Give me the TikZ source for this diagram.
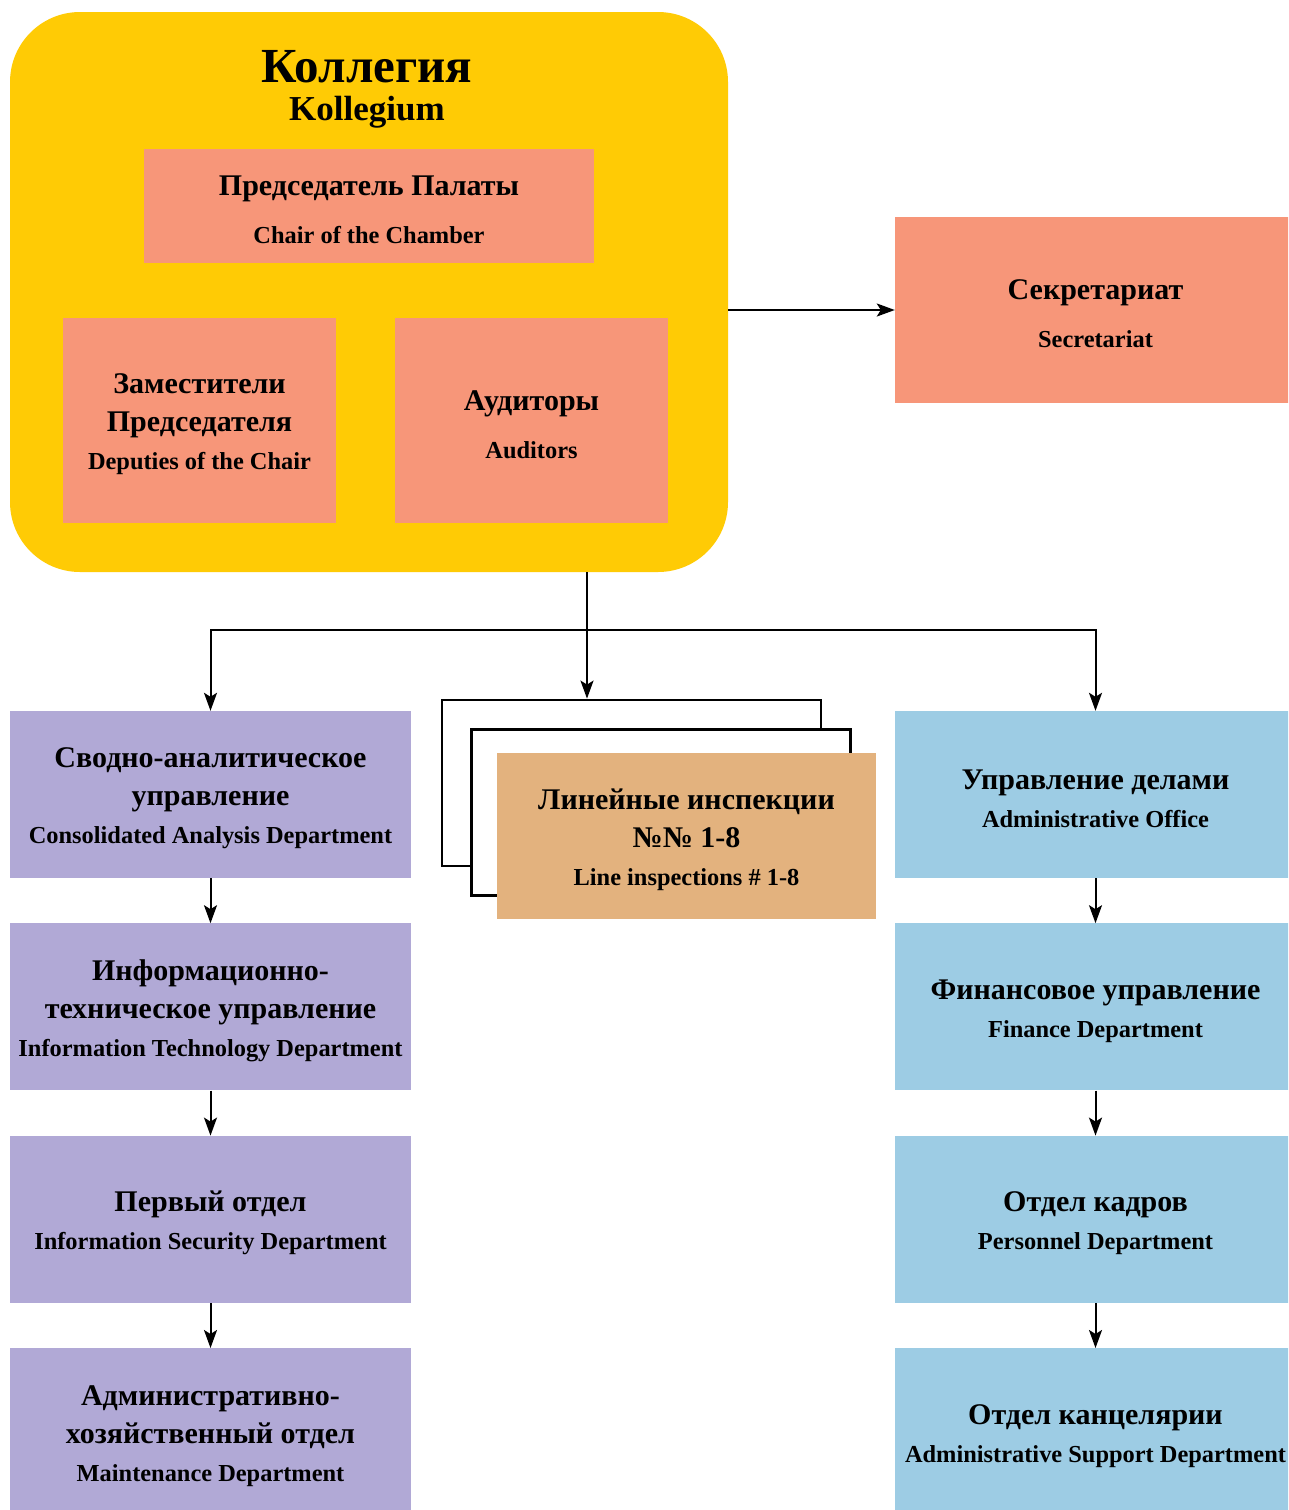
\documentclass[tikz,border=0pt]{standalone}
\usepackage{fontspec}
\setmainfont{Liberation Serif}
\usetikzlibrary{arrows.meta, positioning}
\definecolor{kollyellow}{RGB}{255,203,5}
\definecolor{salmon}{RGB}{247,150,121}
\definecolor{lilac}{RGB}{177,169,214}
\definecolor{skyblue}{RGB}{157,204,228}
\definecolor{tan}{RGB}{227,178,126}
\newcommand{\rusize}{\fontsize{30}{38}\selectfont}
\newcommand{\ensize}{\fontsize{24.4}{38}\selectfont}
\newcommand{\boxstrut}{\rule{0pt}{28pt}}

\begin{document}
\begin{tikzpicture}[x=1pt, y=-1pt,
  unit/.style={rectangle, inner sep=0pt, align=center, font=\bfseries\rusize},
  salmonbox/.style={unit, fill=salmon},
  deptbox/.style={unit, minimum width=401pt, minimum height=167pt},
  inspbox/.style={unit, minimum width=379pt, minimum height=166pt},
  shadowbox/.style={inspbox, draw, line width=2.8pt, fill=white},
  link/.style={line width=2pt, arrows={-Stealth[length=18pt, width=13pt, inset=4pt]}}]
  \useasboundingbox (0,0) rectangle (1288,1510);
  \clip (0,0) rectangle (1288,1510);
  % Kollegium block
  \node[unit, fill=kollyellow, rounded corners=70pt, minimum width=718pt,
    minimum height=560pt] (koll) at (369,292) {};
  \node[unit] (kolltitle) at (367,89)
    {{\fontsize{49}{49}\selectfont Коллегия}\\{\fontsize{35}{34}\selectfont Kollegium}};
  \node[salmonbox, minimum width=450pt, minimum height=114pt] (chair) at (369,206)
    {\boxstrut Председатель Палаты\\[10pt]{\ensize Chair of the Chamber}};
  \node[salmonbox, minimum width=273pt, minimum height=205pt] (deputies) at (199.5,420.5)
    {\boxstrut Заместители\\Председателя\\{\ensize Deputies of the Chair}};
  \node[salmonbox, minimum width=273pt, minimum height=205pt] (auditors) at (531.5,420.5)
    {\boxstrut Аудиторы\\[10pt]{\ensize Auditors}};
  \node[salmonbox, minimum width=401pt, minimum height=186pt] (secr) at (1095.5,310)
    {\boxstrut Секретариат\\[10pt]{\ensize Secretariat}};
  % line inspections stack
  \node[shadowbox] (insp3) at (631.5,783) {};
  \node[shadowbox] (insp2) at (661,812.5) {};
  \node[inspbox, fill=tan] (insp1) at (686.5,836)
    {\boxstrut Линейные инспекции\\№№ 1-8\\{\ensize Line inspections \# 1-8}};
  % left column
  \node[deptbox, fill=lilac] (analysis) at (210.5,794.5)
    {\boxstrut Сводно-аналитическое\\управление\\{\ensize Consolidated Analysis Department}};
  \node[deptbox, fill=lilac] (infotech) [below = 45pt of analysis]
    {\boxstrut Информационно-\\техническое управление\\{\ensize Information Technology Department}};
  \node[deptbox, fill=lilac] (security) [below = 45pt of infotech]
    {\boxstrut Первый отдел\\{\ensize Information Security Department}};
  \node[deptbox, fill=lilac] (maint) [below = 45pt of security]
    {\boxstrut Административно-\\хозяйственный отдел\\{\ensize Maintenance Department}};
  % right column
  \node[deptbox, fill=skyblue] (office) at (1095.5,794.5)
    {\boxstrut Управление делами\\{\ensize Administrative Office}};
  \node[deptbox, fill=skyblue] (finance) [below = 45pt of office]
    {\boxstrut Финансовое управление\\{\ensize Finance Department}};
  \node[deptbox, fill=skyblue] (personnel) [below = 45pt of finance]
    {\boxstrut Отдел кадров\\{\ensize Personnel Department}};
  \node[deptbox, fill=skyblue] (chancery) [below = 45pt of personnel]
    {\boxstrut Отдел канцелярии\\{\ensize Administrative Support Department}};
  \coordinate (split) at (587,630);
  \draw[link] (koll.east |- secr.west) -- (secr.west);
  \draw[line width=2pt] (koll.south -| split) -- (split);
  \draw[link] (split) -- (split |- insp3.north);
  \draw[link] (split) -| (analysis.north);
  \draw[link] (split) -| (office.north);
  \draw[link] (analysis) -- (infotech);
  \draw[link] (infotech) -- (security);
  \draw[link] (security) -- (maint);
  \draw[link] (office) -- (finance);
  \draw[link] (finance) -- (personnel);
  \draw[link] (personnel) -- (chancery);
\end{tikzpicture}
\end{document}
